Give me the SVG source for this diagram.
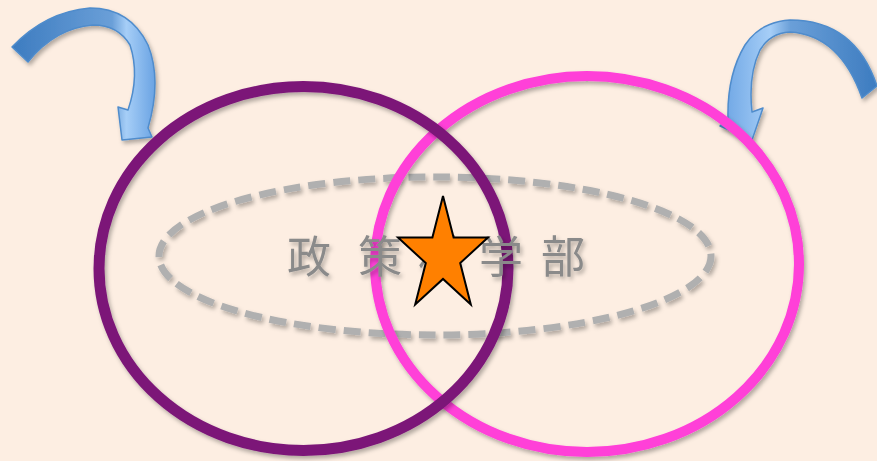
<svg xmlns="http://www.w3.org/2000/svg" width="877" height="461" viewBox="0 0 877 461">
<style>
.ring{fill:none;filter:url(#sh)}
.txt{font-family:"Noto Sans CJK JP","Noto Sans CJK SC",sans-serif;font-size:44px;fill:#8a8a8a;text-anchor:middle;filter:url(#sh)}
.arrow{stroke:#4f8ccc;stroke-width:1.5;stroke-linejoin:round;filter:url(#sh)}
</style>
<defs>
<filter id="sh" x="-10%" y="-10%" width="130%" height="130%">
<feDropShadow dx="2" dy="3" stdDeviation="2" flood-color="#000" flood-opacity="0.3"/>
</filter>
<linearGradient id="gl" x1="0" y1="0" x2="1" y2="0">
<stop offset="0" stop-color="#3d7cc0"/>
<stop offset="0.7" stop-color="#6a9fd8"/>
<stop offset="0.8" stop-color="#a6cef7"/>
<stop offset="1" stop-color="#6aa3e3"/>
</linearGradient>
<linearGradient id="gr" x1="1" y1="0" x2="0" y2="0">
<stop offset="0" stop-color="#3d7cc0"/>
<stop offset="0.55" stop-color="#6a9fd8"/>
<stop offset="0.68" stop-color="#a6cef7"/>
<stop offset="1" stop-color="#6aa3e3"/>
</linearGradient>
</defs>
<rect width="877" height="461" fill="#fdeee2"/>
<g id="connectors">
<path id="arrow-left" class="arrow" fill="url(#gl)" d="M12,47 Q45,12 90,8 Q130,8 148,45 Q162,80 148,128 L152,137 L122,140 L118,107 L128,110 Q140,75 130,45 Q118,25 93,25 Q55,28 28,62 Z"/>
<path id="arrow-right" class="arrow" fill="url(#gr)" d="M877,86 Q855,20 790,20 Q760,22 745,45 Q727,75 728,118 L720,126 L752,140 L763,108 L752,112 Q748,75 760,50 Q770,33 790,32 Q840,35 862,98 Z"/>
</g>
<g id="dashed-ellipse">
<ellipse class="ring" cx="435" cy="256" rx="276" ry="79" stroke="#b0b0b0" stroke-width="7" stroke-dasharray="17 8"/>
</g>
<g id="pink-circle">
<ellipse class="ring" cx="587" cy="264" rx="212" ry="188" stroke="#ff3fd8" stroke-width="10"/>
</g>
<g id="purple-circle">
<ellipse class="ring" cx="303.5" cy="268.5" rx="204.5" ry="182" stroke="#7b1878" stroke-width="11"/>
</g>
<g id="label">
<text class="txt" x="309 380 440 501 563" y="273">政策科学部</text>
</g>
<g id="star">
<polygon points="443,196 453.6,237.5 488,237.5 460.2,263.1 470.8,304.5 443,278.9 415.2,304.5 425.8,263.1 398,237.5 432.4,237.5" fill="#ff8000" stroke="#000" stroke-width="2" stroke-linejoin="miter"/>
</g>
</svg>
